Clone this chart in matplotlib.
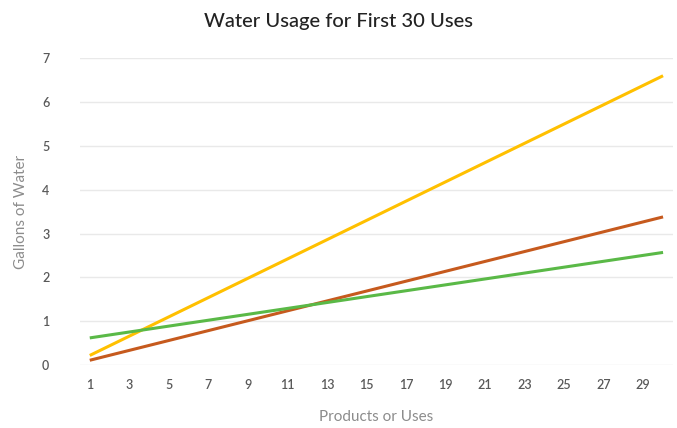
import matplotlib
matplotlib.use('Agg')
import matplotlib.pyplot as plt

# endpoints (straight lines)
uses = [1, 30]
yellow_vals = [0.22, 6.6]
orange_vals = [0.11, 3.38]
green_vals = [0.62, 2.57]
x_ticks = list(range(1, 30, 2))
y_ticks = [0, 1, 2, 3, 4, 5, 6, 7]

plt.rcParams['font.family'] = ['Lato', 'DejaVu Sans']

fig = plt.figure(figsize=(6.77, 4.28), dpi=100)
ax = fig.add_axes([0.118, 0.147, 0.876, 0.717])

ax.plot(uses, yellow_vals, color='#FFC000', lw=2.2, solid_capstyle='butt', clip_on=False)
ax.plot(uses, orange_vals, color='#C65A1E', lw=2.2, solid_capstyle='butt', clip_on=False)
ax.plot(uses, green_vals, color='#5AB947', lw=2.2, solid_capstyle='butt', clip_on=False)

ax.set_xlim(0.5, 30.5)
ax.set_ylim(0, 7)
ax.set_xticks(x_ticks)
ax.set_yticks(y_ticks)
ax.tick_params(length=0, labelsize=9, colors='#595959', pad=10)
ax.tick_params(axis='y', pad=22)
for lbl in ax.get_xticklabels() + ax.get_yticklabels():
    lbl.set_fontweight('semibold')
ax.grid(axis='y', color='#e9e9e9', lw=1)
ax.set_axisbelow(True)
for s in ax.spines.values():
    s.set_visible(False)

ax.set_xlabel('Products or Uses', fontsize=11, color='#8c8c8c', labelpad=14)
ax.set_ylabel('Gallons of Water', fontsize=11, color='#8c8c8c', labelpad=10)
fig.text(0.5, 0.95, 'Water Usage for First 30 Uses', ha='center', va='center',
         fontsize=14.5, color='#222222', fontweight='medium')

fig.savefig('out.png', dpi=100)
